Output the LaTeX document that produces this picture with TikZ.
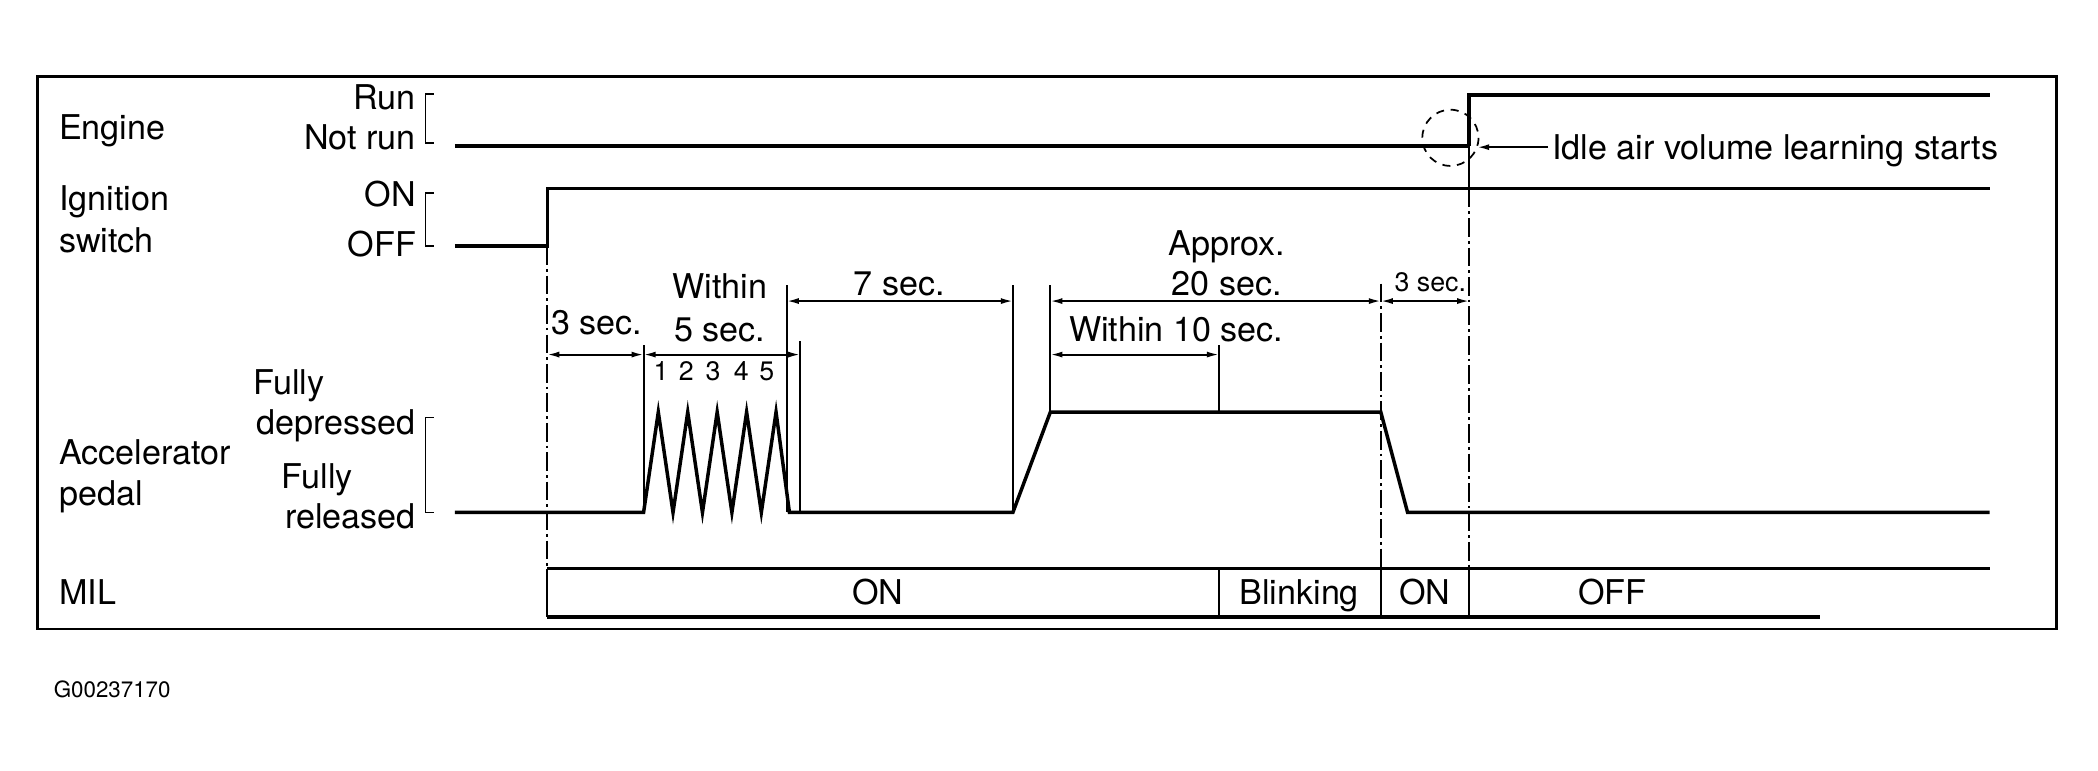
\documentclass[tikz,border=0pt]{standalone}
\usepackage{fontspec}
\setmainfont{TeX Gyre Heros}
\usetikzlibrary{arrows.meta}
\begin{document}
\begin{tikzpicture}[x=1pt,y=-1pt,
  sig/.style={line width=2.6pt, line join=miter},
  frm/.style={line width=2pt},
  thinl/.style={line width=1.4pt},
  brk/.style={line width=1.3pt},
  dim/.style={line width=1.4pt,{Latex[length=9pt,width=4.5pt]}-{Latex[length=9pt,width=4.5pt]}},
  one/.style={line width=1.4pt,-{Latex[length=9pt,width=4.5pt]}},
  dd/.style={line width=1.2pt, dash pattern=on 14pt off 3pt on 2pt off 3pt},
  lab/.style={inner sep=0pt, font=\fontsize{25.5}{28}\selectfont},
  sm/.style={inner sep=0pt, font=\fontsize{20}{22}\selectfont},
  code/.style={inner sep=0pt, font=\fontsize{16.7}{19}\selectfont},
]
\useasboundingbox (0,0) rectangle (1568,576);
% frame
\draw[frm] (28,57) rectangle (1537,470);

% left labels
\node[lab,anchor=base west] (lEngine) at (44,104) {Engine};
\node[lab,anchor=base west] (lIgn) at (44,157) {Ignition};
\node[lab,anchor=base west] (lSw) at (44,189) {switch};
\node[lab,anchor=base west] (lAcc) at (44,347) {Accelerator};
\node[lab,anchor=base west] (lPed) at (44,378) {pedal};
\node[lab,anchor=base west] (lMIL) at (44,452) {MIL};

\node[lab,anchor=base east] (lRun) at (311,82) {Run};
\node[lab,anchor=base east] (lNot) at (311,112) {Not run};
\node[lab,anchor=base east] (lON) at (311,154) {ON};
\node[lab,anchor=base east] (lOFF) at (311,192) {OFF};
\node[lab,anchor=base] (lF1) at (216,295) {Fully};
\node[lab,anchor=base east] (lDep) at (311,325) {depressed};
\node[lab,anchor=base] (lF2) at (237,365) {Fully};
\node[lab,anchor=base east] (lRel) at (311,395) {released};

% brackets
\draw[brk] (324,70) -- (318,70) -- (318,107) -- (324,107);
\draw[brk] (324,144) -- (318,144) -- (318,184) -- (324,184);
\draw[brk] (324,312) -- (318,312) -- (318,383) -- (324,383);

% engine
\draw[sig] (340,109) -- (1098,109);
\draw[sig] (1098,109) -- (1098,71) -- (1487,71);
% ignition
\draw[sig] (340,184) -- (409,184) -- (409,141) -- (1487,141);
% accelerator pedal
\draw[sig] (340,383) -- (481,383)
  -- (492,308) -- (503,383) -- (514,308) -- (525,383) -- (536,308)
  -- (547,383) -- (558,308) -- (569,383) -- (580,308) -- (590,383)
  -- (757,383) -- (785,308) -- (1032,308) -- (1052,383) -- (1487,383);

% dash-dot verticals
\draw[dd] (409,184) -- (409,425);
\draw[dd] (1032,212) -- (1032,425);
\draw[thinl] (1098,109) -- (1098,141);
\draw[dd] (1098,141) -- (1098,425);

% solid extension lines
\draw[thinl] (481,258) -- (481,383);
\draw[thinl] (588,213) -- (588,383);
\draw[thinl] (598,255) -- (598,383);
\draw[thinl] (757,213) -- (757,383);
\draw[thinl] (785,213) -- (785,308);
\draw[thinl] (911,258) -- (911,308);

% dimension arrows
\draw[dim] (409,265) -- (481,265);
\draw[dim] (481,265) -- (598,265);
\draw[dim] (588,225) -- (757,225);
\draw[dim] (785,225) -- (1032,225);
\draw[dim] (1032,225) -- (1098,225);
\draw[dim] (785,265) -- (911,265);

% dimension texts
\node[lab,anchor=base] (t3) at (446,250) {3 sec.};
\node[lab,anchor=base] (tW) at (538,223) {Within};
\node[lab,anchor=base] (t5) at (538,255) {5 sec.};
\node[lab,anchor=base] (t7) at (672,221) {7 sec.};
\node[lab,anchor=base] (tAp) at (917,191) {Approx.};
\node[lab,anchor=base] (t20) at (917,221) {20 sec.};
\node[lab,anchor=base] (t10) at (879,255) {Within 10 sec.};
\node[sm,anchor=base] (t3b) at (1069,218) {3 sec.};
\node[sm,anchor=base] (n1) at (494,284) {1};
\node[sm,anchor=base] (n2) at (513,284) {2};
\node[sm,anchor=base] (n3) at (533,284) {3};
\node[sm,anchor=base] (n4) at (554,284) {4};
\node[sm,anchor=base] (n5) at (573,284) {5};

% idle air
\draw[dashed,line width=1.3pt,dash pattern=on 6pt off 5pt] (1084,103) circle (21);
\node[lab,anchor=base west] (idle) at (1160,119) {Idle air volume learning starts};
\coordinate (circR) at (1104,110);
\draw[one] (idle.west |- 0,110) ++(-3,0) -- (circR);

% MIL
\draw[sig] (409,425) -- (1487,425);
\draw[sig] (409,461) -- (1360,461);
\draw[thinl] (409,425) -- (409,461);
\draw[thinl] (911,425) -- (911,461);
\draw[thinl] (1032,425) -- (1032,461);
\draw[thinl] (1098,425) -- (1098,461);
\node[lab,anchor=base] (m1) at (656,452) {ON};
\node[lab,anchor=base] (m2) at (971,452) {Blinking};
\node[lab,anchor=base] (m3) at (1065,452) {ON};
\node[lab,anchor=base] (m4) at (1205,452) {OFF};

\node[code,anchor=base west] (gcode) at (40,521) {G00237170};
\end{tikzpicture}
\end{document}
